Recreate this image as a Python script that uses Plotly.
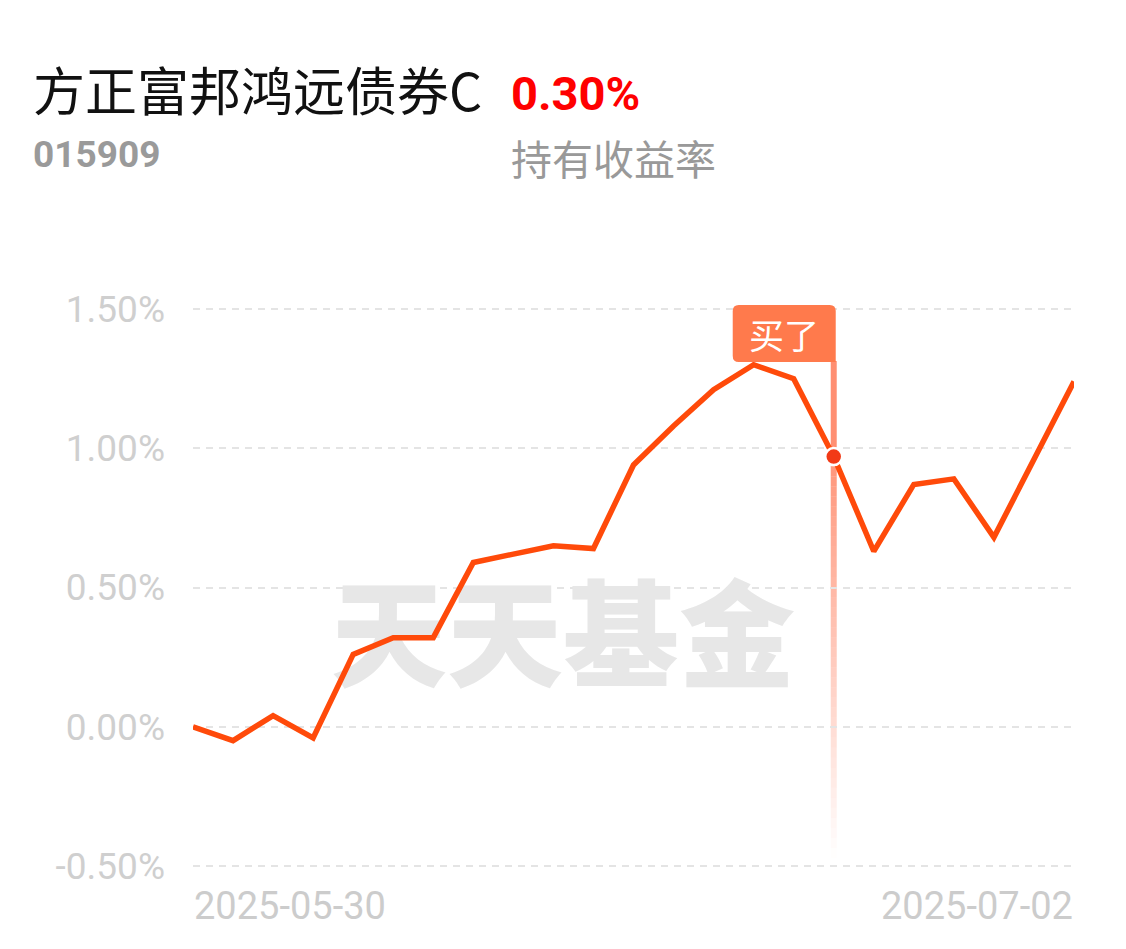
import plotly.graph_objects as go

# ---------------- data ----------------
dates = ["2025-05-30", "2025-06-03", "2025-06-04", "2025-06-05", "2025-06-06",
         "2025-06-09", "2025-06-10", "2025-06-11", "2025-06-12", "2025-06-13",
         "2025-06-16", "2025-06-17", "2025-06-18", "2025-06-19", "2025-06-20",
         "2025-06-23", "2025-06-24", "2025-06-25", "2025-06-26", "2025-06-27",
         "2025-06-30", "2025-07-01", "2025-07-02"]
returns = [0.00, -0.05, 0.04, -0.04, 0.26, 0.32, 0.32, 0.59, 0.62, 0.65,
           0.64, 0.94, 1.08, 1.21, 1.30, 1.25, 0.97, 0.63, 0.87, 0.89,
           0.68, 0.96, 1.24]
buy_date = "2025-06-24"
ytick_vals = [-0.5, 0.0, 0.5, 1.0, 1.5]
ytick_text = ["-0.50%", "0.00%", "0.50%", "1.00%", "1.50%"]
fund_name = "方正富邦鸿远债券C"
fund_code = "015909"
hold_return = "0.30%"
hold_label = "持有收益率"
buy_label = "买了"
watermark = "天天基金"

# ---------------- layout geometry ----------------
W, H = 1126, 949
EXT = 12                      # extra px above / below the outer gridlines
L, R = 193, 1074
T, B = 309 - EXT, 866 + EXT   # plot area (px)
PW, PH = R - L, B - T
UNIT = (866 - 309) / 2.0      # px per 1 percentage point
ylo, yhi = -0.5 - EXT / UNIT, 1.5 + EXT / UNIT


def px_x(p):
    return (p - L) / PW


def px_y(p):
    return (B - p) / PH


xi = list(range(len(dates)))
buy_i = dates.index(buy_date)
buy_v = returns[buy_i]

LINE = "#ff4a0a"
fig = go.Figure()

# watermark (under the line)
fig.add_trace(go.Scatter(
    x=[(len(dates) - 1) * 0.42], y=[0.28], mode="text", text=[watermark],
    textfont=dict(family="Noto Sans CJK SC", size=116, color="#e7e7e7", weight=900),
    hoverinfo="skip", showlegend=False, cliponaxis=False))

# main line
fig.add_trace(go.Scatter(
    x=xi, y=returns, mode="lines",
    line=dict(color=LINE, width=5.5, shape="linear"),
    cliponaxis=False, showlegend=False, hoverinfo="skip"))

# buy marker dot
fig.add_trace(go.Scatter(
    x=[buy_i], y=[buy_v], mode="markers",
    marker=dict(size=17, color="#f23a16", line=dict(color="white", width=2.5)),
    cliponaxis=False, showlegend=False, hoverinfo="skip"))

shapes = []
# vertical buy line: solid part from tag to dot
tag_bottom_px = 361
dot_px = B - (buy_v - ylo) * UNIT
shapes.append(dict(type="line", xref="x", yref="paper", x0=buy_i, x1=buy_i,
                   y0=px_y(dot_px), y1=px_y(tag_bottom_px),
                   line=dict(color="rgba(255,100,60,0.72)", width=6), layer="below"))
# fading part below the dot
end_px = 858
n = 40
for k in range(n):
    p0 = dot_px + (end_px - dot_px) * k / n
    p1 = dot_px + (end_px - dot_px) * (k + 1) / n
    a = 0.68 * (1 - (k + 0.5) / n)
    shapes.append(dict(type="line", xref="x", yref="paper", x0=buy_i, x1=buy_i,
                       y0=px_y(p0), y1=px_y(p1),
                       line=dict(color=f"rgba(255,100,60,{a:.3f})", width=6), layer="below"))

# tag with rounded corners (pixel offsets relative to buy x / 1.5 gridline)
x0, x1, y0, y1, r = -101, 2, -53, 4, 6
path = (f"M {x0 + r},{y1} L {x1 - r},{y1} Q {x1},{y1} {x1},{y1 - r} "
        f"L {x1},{y0} L {x0 + r},{y0} Q {x0},{y0} {x0},{y0 + r} "
        f"L {x0},{y1 - r} Q {x0},{y1} {x0 + r},{y1} Z")
shapes.append(dict(type="path", xref="x", yref="y", xsizemode="pixel", ysizemode="pixel",
                   xanchor=buy_i, yanchor=1.5, path=path,
                   fillcolor="#ff7a4c", line=dict(width=0), layer="above"))

annotations = [
    dict(text=fund_name, xref="paper", yref="paper", x=px_x(31), y=px_y(89),
         xanchor="left", yanchor="middle", showarrow=False,
         font=dict(family="Noto Sans CJK SC", size=52, color="#111111")),
    dict(text=f"<b>{hold_return}</b>", xref="paper", yref="paper", x=px_x(509), y=px_y(93),
         xanchor="left", yanchor="middle", showarrow=False,
         font=dict(family="Roboto", size=47, color="#ff0000")),
    dict(text=f"<b>{fund_code}</b>", xref="paper", yref="paper", x=px_x(31), y=px_y(155),
         xanchor="left", yanchor="middle", showarrow=False,
         font=dict(family="Roboto", size=37, color="#9a9a9a")),
    dict(text=hold_label, xref="paper", yref="paper", x=px_x(509), y=px_y(157),
         xanchor="left", yanchor="middle", showarrow=False,
         font=dict(family="Noto Sans CJK SC", size=41, color="#999999")),
    dict(text=buy_label, xref="x", yref="paper", x=buy_i, xshift=-50, y=px_y(333),
         xanchor="center", yanchor="middle", showarrow=False,
         font=dict(family="Noto Sans CJK SC", size=35, color="white")),
    dict(text=dates[0], xref="x", yref="paper", x=0, y=px_y(906),
         xanchor="left", yanchor="middle", showarrow=False, xshift=-1,
         font=dict(family="Roboto", size=38, color="#cccccc")),
    dict(text=dates[-1], xref="x", yref="paper", x=len(dates) - 1, y=px_y(906),
         xanchor="right", yanchor="middle", showarrow=False, xshift=1,
         font=dict(family="Roboto", size=38, color="#cccccc")),
]

fig.update_layout(
    width=W, height=H,
    margin=dict(l=L, r=W - R, t=T, b=H - B, pad=0),
    paper_bgcolor="white", plot_bgcolor="white",
    showlegend=False,
    shapes=shapes, annotations=annotations,
    xaxis=dict(range=[0, len(dates) - 1], showgrid=False, zeroline=False,
               showticklabels=False, showline=False, fixedrange=True),
    yaxis=dict(range=[ylo, yhi], tickvals=ytick_vals, ticktext=ytick_text,
               showgrid=True, gridcolor="#e4e4e4", gridwidth=2, griddash="7px,6px",
               zeroline=False, showline=False, ticks="",
               ticklabelstandoff=27,
               tickfont=dict(family="Roboto", size=37, color="#cfcfcf"),
               fixedrange=True),
)

fig.write_html("out.html",
               config={"displayModeBar": False, "staticPlot": True},
               post_script="document.body.style.margin='0';document.body.style.overflow='hidden';")
